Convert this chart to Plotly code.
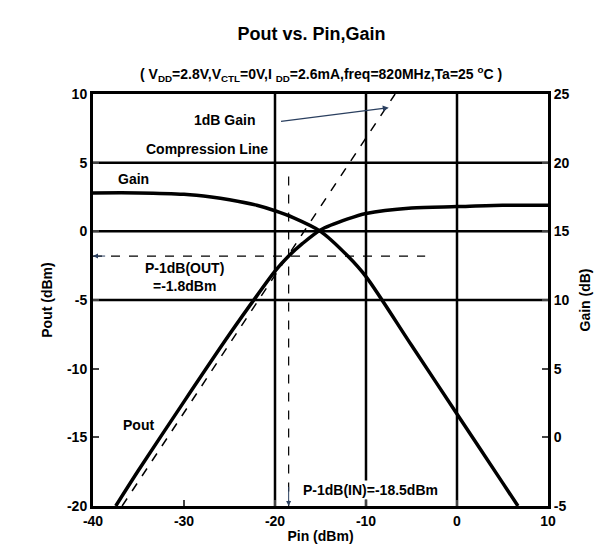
import plotly.graph_objects as go

pin_pout = [-37.5, -35, -30, -25, -22, -20, -18.5, -17, -15, -12, -10, -5, 0, 5, 10]
pout = [-20, -17.4, -12.4, -7.5, -4.7, -2.9, -1.8, -0.9, 0.1, 0.9, 1.3, 1.7, 1.8, 1.9, 1.9]
pin_gain = [-40, -35, -30, -27, -25, -22, -20, -18, -15, -12, -10, -5, 0, 5, 6.7]
gain = [17.8, 17.8, 17.7, 17.5, 17.3, 16.9, 16.5, 16.0, 15.0, 13.2, 11.7, 6.7, 1.7, -3.3, -5]
comp_x = [-36.8, -6.8]
comp_y = [-20, 10]
x_ticks = [-40, -30, -20, -10, 0, 10]
y_ticks = [-20, -15, -10, -5, 0, 5, 10]
y2_ticks = [-5, 0, 5, 10, 15, 20, 25]

FF = "Liberation Sans, Arial"
fig = go.Figure()
fig.add_trace(go.Scatter(x=pin_pout, y=pout, mode="lines", line=dict(color="black", width=3.5, shape="spline", smoothing=0.8)))
fig.add_trace(go.Scatter(x=pin_gain, y=gain, mode="lines", yaxis="y2", line=dict(color="black", width=3.5, shape="spline", smoothing=0.8)))
fig.add_trace(go.Scatter(x=comp_x, y=comp_y, mode="lines", line=dict(color="black", width=1.5, dash="dash")))
fig.add_trace(go.Scatter(x=[-40, -3.5], y=[-1.8, -1.8], mode="lines", line=dict(color="black", width=1.2, dash="dash")))
fig.add_trace(go.Scatter(x=[-18.5, -18.5], y=[4, -20], mode="lines", line=dict(color="black", width=1.2, dash="dash")))

f = dict(family=FF, size=14, color="black")
ann = [
    dict(x=-40, y=-1.8, ax=-38.5, ay=-1.8, axref="x", ayref="y", showarrow=True, arrowhead=2, arrowsize=1, arrowwidth=1, text=""),
    dict(x=-18.5, y=-20, ax=-18.5, ay=-18.5, axref="x", ayref="y", showarrow=True, arrowhead=2, arrowwidth=1, text=""),
    dict(x=-7.5, y=9.0, ax=-19.5, ay=8.0, axref="x", ayref="y", showarrow=True, arrowhead=2, arrowwidth=1.2, text=""),
    dict(x=-25.5, y=8.1, text="1dB Gain", showarrow=False, font=f, bgcolor="white"),
    dict(x=-27.5, y=6.0, text="Compression Line", showarrow=False, font=f, bgcolor="white"),
    dict(x=-35.5, y=3.8, text="Gain", showarrow=False, font=f, bgcolor="white"),
    dict(x=-30, y=-3.3, text="P-1dB(OUT)<br>=-1.8dBm", showarrow=False, font=f, bgcolor="white"),
    dict(x=-35, y=-14.1, text="Pout", showarrow=False, font=f, bgcolor="white"),
    dict(x=-9.5, y=-18.8, text="P-1dB(IN)=-18.5dBm", showarrow=False, font=f, bgcolor="white"),
    dict(x=0.5, y=1.0, xref="paper", yref="paper", yshift=8, text="( V<sub>DD</sub>=2.8V,V<sub>CTL</sub>=0V,I <sub>DD</sub>=2.6mA,freq=820MHz,Ta=25 <sup>o</sup>C )",
         showarrow=False, font=dict(family=FF, size=14, color="black"), yanchor="bottom"),
]
tf = dict(family=FF, size=14, color="black")
ax = dict(showline=True, mirror=True, linecolor="black", linewidth=3, ticks="inside", ticklen=6, tickwidth=2,
          tickfont=tf, zeroline=False, showgrid=False)
def tt(v): return ["<b>%d</b>" % x for x in v]
fig.update_layout(
    width=607, height=547, plot_bgcolor="white", paper_bgcolor="white", showlegend=False,
    margin=dict(l=85, r=67, t=86, b=38),
    title=dict(text="<b>Pout vs. Pin,Gain</b>", x=0.5, y=0.965, xanchor="center",
               font=dict(family=FF, size=18, color="black")),
    xaxis=dict(ax, range=[-40, 10], tickvals=x_ticks, ticktext=tt(x_ticks),
               title=dict(text="<b>Pin (dBm)</b>", font=f, standoff=4)),
    yaxis=dict(ax, range=[-20, 10], tickvals=y_ticks, ticktext=tt(y_ticks),
               title=dict(text="<b>Pout (dBm)</b>", font=f, standoff=12)),
    yaxis2=dict(ax, range=[-5, 25], tickvals=y2_ticks, ticktext=tt(y2_ticks), overlaying="y", side="right",
                title=dict(text="<b>Gain (dB)</b>", font=f, standoff=12)),
    annotations=ann,
)
for v in [-20, -10, 0]:
    fig.add_shape(type="line", x0=v, x1=v, y0=-20, y1=10, xref="x", yref="y", line=dict(color="black", width=2.5), layer="below")
for h in [5, 0, -5]:
    fig.add_shape(type="line", x0=-40, x1=10, y0=h, y1=h, xref="x", yref="y", line=dict(color="black", width=2.5), layer="below")
for a in fig.layout.annotations:
    if a.text and "<b>" not in a.text:
        a.text = "<b>" + a.text + "</b>"
fig.write_html("out.html")
